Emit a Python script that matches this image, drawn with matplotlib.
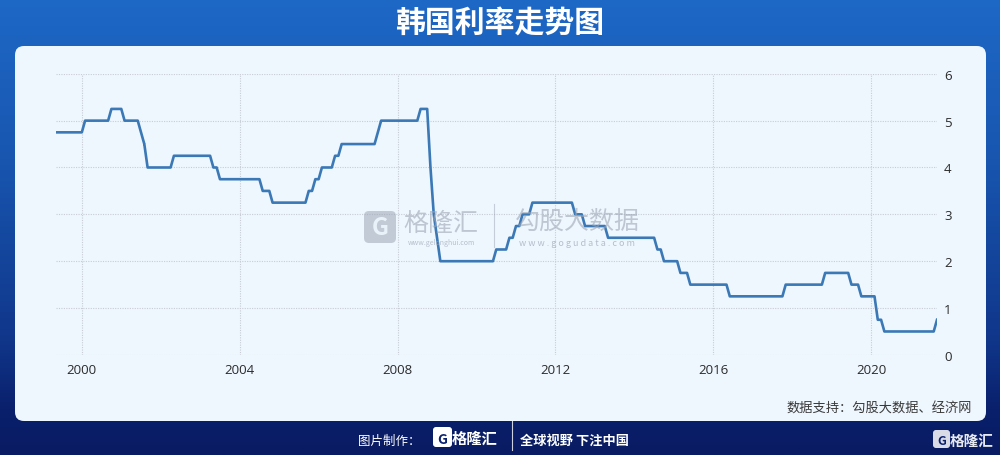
import numpy as np
import matplotlib
matplotlib.use('Agg')
import matplotlib.pyplot as plt
from matplotlib.patches import FancyBboxPatch

plt.rcParams['font.family'] = ['Noto Sans CJK SC', 'DejaVu Sans']

# Bank of Korea base rate: (year, month, rate) at each change
change_year = [1999, 2000, 2000, 2001, 2001, 2001, 2001, 2002, 2003, 2003, 2004, 2004,
               2005, 2005, 2006, 2006, 2006, 2007, 2007, 2008, 2008, 2008, 2009,
               2009, 2010, 2010, 2011, 2011, 2011, 2012, 2012, 2013, 2014, 2014, 2015,
               2015, 2016, 2017, 2018, 2019, 2019, 2020, 2020, 2021]
change_month = [5, 2, 10, 2, 7, 8, 9, 5, 5, 7, 8, 11,
                10, 12, 2, 6, 8, 7, 8, 8, 11, 12, 1,
                2, 7, 11, 1, 3, 6, 7, 10, 5, 8, 10, 3,
                6, 6, 11, 11, 7, 10, 3, 5, 9]
change_rate = [4.75, 5.00, 5.25, 5.00, 4.75, 4.50, 4.00, 4.25, 4.00, 3.75, 3.50, 3.25,
               3.50, 3.75, 4.00, 4.25, 4.50, 4.75, 5.00, 5.25, 4.00, 3.00, 2.50,
               2.00, 2.25, 2.50, 2.75, 3.00, 3.25, 3.00, 2.75, 2.50, 2.25, 2.00, 1.75,
               1.50, 1.25, 1.50, 1.75, 1.50, 1.25, 0.75, 0.50, 0.75]
end_year, end_month = 2021, 9

x_ticks = [2000, 2004, 2008, 2012, 2016, 2020]
y_ticks = [0, 1, 2, 3, 4, 5, 6]

title = '韩国利率走势图'
source = '数据支持：勾股大数据、经济网'

# monthly sampled line: previous rate held until the month before each change
t = np.array(change_year) + (np.array(change_month) - 1) / 12.0
xs, ys = [t[0]], [change_rate[0]]
for i in range(1, len(t)):
    xs.append(t[i] - 1 / 12.0)
    ys.append(change_rate[i - 1])
    xs.append(t[i])
    ys.append(change_rate[i])
t_end = end_year + (end_month - 1) / 12.0
if t_end > xs[-1]:
    xs.append(t_end)
    ys.append(change_rate[-1])

fig = plt.figure(figsize=(10, 4.56), dpi=100)

# blue background gradient
bg = fig.add_axes([0, 0, 1, 1], zorder=0)
bg.set_axis_off()
stops = np.array([[0.00, 0x1e, 0x68, 0xc6],
                  [0.35, 0x18, 0x56, 0xb0],
                  [0.75, 0x10, 0x36, 0x8a],
                  [0.90, 0x0a, 0x20, 0x6c],
                  [1.00, 0x09, 0x1b, 0x62]])
rows = np.linspace(0, 1, 300)
grad = np.stack([np.interp(rows, stops[:, 0], stops[:, k]) for k in (1, 2, 3)], axis=-1) / 255.0
bg.imshow(grad[:, None, :], extent=[0, 1, 0, 1], aspect='auto', origin='upper')
bg.set_xlim(0, 1)
bg.set_ylim(0, 1)

# light panel
panel = FancyBboxPatch((0.15, 0.34), 9.71, 3.75, boxstyle='round,pad=0,rounding_size=0.09',
                       transform=fig.dpi_scale_trans, facecolor='#eef6fe', edgecolor='none',
                       zorder=1)
fig.add_artist(panel)

ax = fig.add_axes([0.0555, 0.2195, 0.8815, 0.6165], zorder=2)
ax.patch.set_alpha(0)
ax.plot(xs, ys, color='#3b78b6', linewidth=1.9, solid_joinstyle='round', zorder=3)
ax.set_xlim(t[0], t_end)
ax.set_ylim(0, 6)
ax.set_xticks(x_ticks)
ax.set_xticklabels([str(v) for v in x_ticks])
ax.set_yticks(y_ticks)
ax.yaxis.tick_right()
ax.tick_params(axis='both', length=0, labelsize=9.5, labelcolor='#2b2b2b')
ax.tick_params(axis='x', pad=6)
ax.tick_params(axis='y', pad=5)
for lab in ax.get_xticklabels() + ax.get_yticklabels():
    lab.set_family(['Open Sans', 'DejaVu Sans'])
ax.grid(True, color='#c8cdd5', linestyle=(0, (1, 1.2)), linewidth=0.8, zorder=0)
for s in ax.spines.values():
    s.set_visible(False)

# watermarks
wm = '#9ea6b6'
fig.add_artist(FancyBboxPatch((3.64, 2.12), 0.32, 0.32, boxstyle='round,pad=0,rounding_size=0.05',
                              transform=fig.dpi_scale_trans, facecolor=wm, edgecolor='none',
                              alpha=0.55, zorder=4))
fig.text(0.380, 1 - 228 / 456, 'G', color='#eef6fe', fontsize=17, fontweight='bold',
         ha='center', va='center', alpha=0.9, zorder=5)
fig.text(0.441, 1 - 224 / 456, '格隆汇', color=wm, fontsize=18, ha='center', va='center',
         alpha=0.6, zorder=5)
fig.text(0.441, 1 - 243 / 456, 'www.gelonghui.com', color=wm, fontsize=5, ha='center',
         va='center', alpha=0.7, zorder=5)
fig.add_artist(plt.Line2D([0.494, 0.494], [1 - 205 / 456, 1 - 248 / 456], color=wm,
                          linewidth=0.8, alpha=0.5, zorder=5))
fig.text(0.577, 1 - 222 / 456, '勾股大数据', color=wm, fontsize=18, ha='center', va='center',
         alpha=0.6, zorder=5)
fig.text(0.577, 1 - 243 / 456, 'w w w . g o g u d a t a . c o m', color=wm, fontsize=6.5,
         ha='center', va='center', alpha=0.7, zorder=5)

# title & source
fig.text(0.5, 1 - 23 / 456, title, color='white', fontsize=21.5, fontweight='bold',
         ha='center', va='center', zorder=5)
fig.text(0.972, 1 - 409 / 456, source, color='#3a3a3a', fontsize=9.5, ha='right',
         va='center', zorder=5)

# footer
fy = 1 - 441 / 456
fig.text(0.358, fy, '图片制作：', color='white', fontsize=9, ha='left', va='center', zorder=5)
fig.add_artist(FancyBboxPatch((4.33, 0.08), 0.19, 0.2, boxstyle='round,pad=0,rounding_size=0.03',
                              transform=fig.dpi_scale_trans, facecolor='white', edgecolor='none',
                              zorder=5))
fig.text(0.4425, fy + 0.003, 'G', color='#0b2270', fontsize=10, fontweight='bold', ha='center',
         va='center', zorder=6)
fig.text(0.475, fy + 0.006, '格隆汇', color='white', fontsize=11, fontweight='bold',
         ha='center', va='center', zorder=5)
fig.add_artist(plt.Line2D([0.512, 0.512], [0.01, 0.075], color='white', linewidth=0.8,
                          alpha=0.8, zorder=5))
fig.text(0.520, fy, '全球视野 下注中国', color='white', fontsize=9.5, fontweight='bold',
         ha='left', va='center', zorder=5)
fig.add_artist(FancyBboxPatch((9.33, 0.07), 0.17, 0.18, boxstyle='round,pad=0,rounding_size=0.03',
                              transform=fig.dpi_scale_trans, facecolor='white', edgecolor='none',
                              alpha=0.85, zorder=5))
fig.text(0.9415, fy - 0.002, 'G', color='#0b2270', fontsize=9, fontweight='bold', ha='center',
         va='center', zorder=6)
fig.text(0.972, fy, '格隆汇', color='white', fontsize=10.5, fontweight='bold', ha='center',
         va='center', alpha=0.9, zorder=5)

fig.savefig('out.png', dpi=100)
